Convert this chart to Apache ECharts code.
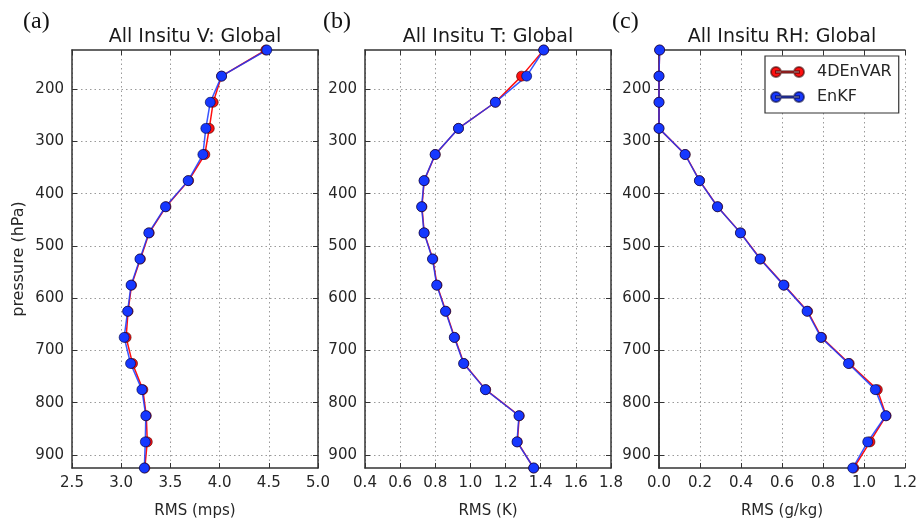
<!DOCTYPE html>
<html>
<head>
<meta charset="utf-8">
<script src="https://cdn.jsdelivr.net/npm/echarts@6/dist/echarts.min.js"></script>
<style>
html, body { margin: 0; background: #fff; }
#main { width: 924px; height: 524px; }
</style>
</head>
<body>
<div id="main"></div>
<script>
// pressure levels (hPa) and y tick labels
var levels = [125, 175, 225, 275, 325, 375, 425, 475, 525, 575, 625, 675, 725, 775, 825, 875, 925];
var yTicks = [200, 300, 400, 500, 600, 700, 800, 900];

// (a) wind RMS (mps)
var vEnvar = [4.47, 4.02, 3.935, 3.895, 3.85, 3.685, 3.455, 3.285, 3.195, 3.105, 3.07, 3.05, 3.115, 3.22, 3.255, 3.265, 3.24];
var vEnkf  = [4.48, 4.02, 3.905, 3.86, 3.83, 3.68, 3.45, 3.28, 3.19, 3.10, 3.065, 3.03, 3.095, 3.21, 3.25, 3.245, 3.235];

// (b) temperature RMS (K)
var tEnvar = [1.417, 1.291, 1.142, 0.932, 0.80, 0.737, 0.724, 0.737, 0.786, 0.81, 0.86, 0.91, 0.963, 1.087, 1.278, 1.267, 1.36];
var tEnkf  = [1.417, 1.32, 1.142, 0.932, 0.799, 0.736, 0.722, 0.736, 0.784, 0.808, 0.858, 0.908, 0.961, 1.085, 1.276, 1.265, 1.36];

// (c) humidity RMS (g/kg)
var rhEnvar = [0.003, 0.0, 0.0, 0.0, 0.128, 0.198, 0.286, 0.398, 0.495, 0.61, 0.725, 0.793, 0.928, 1.065, 1.108, 1.029, 0.95];
var rhEnkf  = [0.003, 0.0, 0.0, 0.0, 0.127, 0.197, 0.285, 0.397, 0.493, 0.608, 0.722, 0.79, 0.924, 1.055, 1.106, 1.018, 0.945];

var panels = [
    {label: '(a)', title: 'All Insitu V: Global', xname: 'RMS (mps)', min: 2.5, max: 5.0, interval: 0.5, envar: vEnvar, enkf: vEnkf, left: 72},
    {label: '(b)', title: 'All Insitu T: Global', xname: 'RMS (K)', min: 0.4, max: 1.8, interval: 0.2, envar: tEnvar, enkf: tEnkf, left: 365},
    {label: '(c)', title: 'All Insitu RH: Global', xname: 'RMS (g/kg)', min: 0.0, max: 1.2, interval: 0.2, envar: rhEnvar, enkf: rhEnkf, left: 659}
];
var labelX = [23, 323, 612];

var font = 'DejaVu Sans';
var plotTop = 50, plotH = 427, plotW = 246;
var frame = {show: true, lineStyle: {color: '#333', width: 1.5}};
var grid = {show: true, lineStyle: {color: '#9a9a9a', type: [1.5, 3], width: 1}};

function pairs(vals) {
    return vals.map(function (v, i) { return [v, levels[i]]; });
}

var grids = [], xAxes = [], yAxes = [], series = [], graphics = [];
panels.forEach(function (p, i) {
    grids.push({left: p.left, top: plotTop, width: plotW, height: plotH, containLabel: false});
    // bottom x axis
    xAxes.push({
        gridIndex: i, type: 'value', position: 'bottom',
        min: p.min, max: p.max, interval: p.interval,
        name: p.xname, nameLocation: 'middle', nameGap: 36,
        nameTextStyle: {fontFamily: font, fontSize: 15, color: '#262626'},
        axisLine: frame,
        axisTick: {show: true, inside: true, length: 5, lineStyle: {color: '#333'}},
        axisLabel: {fontFamily: font, fontSize: 15, color: '#262626', margin: 8,
            formatter: function (v) { return v.toFixed(1); }},
        splitLine: grid
    });
    // top x axis (frame + ticks)
    xAxes.push({
        gridIndex: i, type: 'value', position: 'top',
        min: p.min, max: p.max, interval: p.interval,
        axisLine: frame,
        axisTick: {show: true, inside: true, length: 5, lineStyle: {color: '#333'}},
        axisLabel: {show: false}, splitLine: {show: false}
    });
    // left y axis
    yAxes.push({
        gridIndex: i, type: 'value', position: 'left', inverse: true,
        min: 125, max: 925,
        name: i === 0 ? 'pressure (hPa)' : '', nameLocation: 'middle', nameGap: 45,
        nameTextStyle: {fontFamily: font, fontSize: 16, color: '#262626'},
        axisLine: frame,
        axisTick: {show: true, inside: true, length: 5, customValues: yTicks, lineStyle: {color: '#333'}},
        axisLabel: {fontFamily: font, fontSize: 15, color: '#262626', margin: 8, customValues: yTicks},
        splitLine: grid
    });
    // right y axis (frame + ticks)
    yAxes.push({
        gridIndex: i, type: 'value', position: 'right', inverse: true,
        min: 125, max: 925,
        axisLine: frame,
        axisTick: {show: true, inside: true, length: 5, customValues: yTicks, lineStyle: {color: '#333'}},
        axisLabel: {show: false}, splitLine: {show: false}
    });

    series.push({
        name: '4DEnVAR', type: 'line', xAxisIndex: 2 * i, yAxisIndex: 2 * i,
        data: pairs(p.envar), symbol: 'circle', symbolSize: 10,
        lineStyle: {color: '#ff1010', width: 1.5},
        itemStyle: {color: '#ff1010', borderColor: 'rgba(60,0,0,0.6)', borderWidth: 1}
    });
    series.push({
        name: 'EnKF', type: 'line', xAxisIndex: 2 * i, yAxisIndex: 2 * i,
        data: pairs(p.enkf), symbol: 'circle', symbolSize: 10,
        lineStyle: {color: '#1638ff', width: 1.5, opacity: 0.85},
        itemStyle: {color: '#1638ff', borderColor: 'rgba(0,0,60,0.6)', borderWidth: 1}
    });

    graphics.push({type: 'text', style: {text: p.title, x: p.left + plotW / 2, y: 37,
        textAlign: 'center', textVerticalAlign: 'middle', fill: '#1a1a1a',
        font: '19px "DejaVu Sans"'}});
    graphics.push({type: 'text', style: {text: p.label, x: labelX[i], y: 22,
        textAlign: 'left', textVerticalAlign: 'middle', fill: '#111',
        font: '24px "Liberation Serif"'}});
});

var chart = echarts.init(document.getElementById('main'));
var option = {
    animation: false,
    backgroundColor: '#fff',
    grid: grids,
    xAxis: xAxes,
    yAxis: yAxes,
    legend: {
        data: ['4DEnVAR', 'EnKF'],
        orient: 'vertical', left: 765, top: 56,
        padding: [8, 7, 8, 5], itemGap: 9,
        itemWidth: 33, itemHeight: 10,
        icon: 'path://M0,5a5,5 0 1,0 10,0a5,5 0 1,0 -10,0Z M23,5a5,5 0 1,0 10,0a5,5 0 1,0 -10,0Z M5,4.2L28,4.2L28,5.8L5,5.8Z',
        borderColor: '#333', borderWidth: 1.2, borderRadius: 0,
        backgroundColor: '#fff',
        textStyle: {fontFamily: font, fontSize: 16, color: '#262626', padding: [0, 0, 0, 8]}
    },
    graphic: graphics,
    series: series
};
chart.setOption(option);
</script>
</body>
</html>
